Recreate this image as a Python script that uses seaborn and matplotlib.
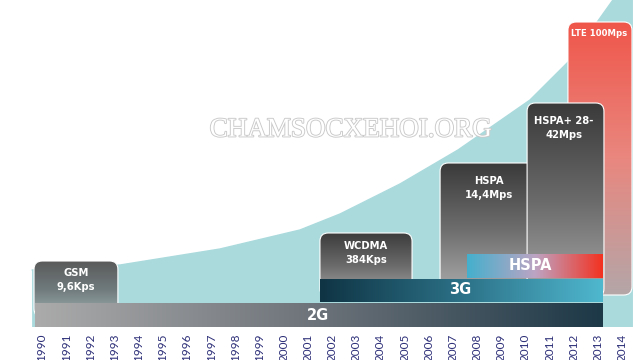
import numpy as np
import seaborn as sns
import matplotlib.pyplot as plt
import matplotlib.patheffects as pe
from matplotlib.colors import LinearSegmentedColormap
from matplotlib.patches import FancyBboxPatch

# years on the axis
years = list(range(1990, 2015))

# growth curve (relative data rate)
curve_years = [1989.59, 1993.23, 1997.36, 2000.67, 2002.33, 2004.81, 2007.21, 2010.19, 2011.85, 2013.62, 2014.45]
curve_heights = [57, 62, 78, 97, 113, 143, 177, 227, 267, 327, 360]

# generation bars: label, start, end, bottom, top
bar_labels = ["2G", "3G", "HSPA"]
bar_start = [1989.71, 2001.5, 2007.58]
bar_end = [2013.21, 2013.21, 2013.21]
bar_bottom = [0, 25, 49]
bar_top = [24, 48, 73]

# technology boxes
box_labels = ["LTE 100Mps", "GSM\n9,6Kps", "WCDMA\n384Kps", "HSPA\n14,4Mps", "HSPA+ 28-\n42Mps"]
box_start = [2011.76, 1989.67, 2001.5, 2006.47, 2010.07]
box_end = [2014.41, 1993.14, 2005.31, 2010.6, 2013.25]
box_top = [305, 66, 94, 164, 224]
box_bottom = [32, 10, 30, 30, 30]

sns.set_theme(style="white")
plt.rcParams['font.family'] = ['Lato', 'DejaVu Sans']

fig = plt.figure(figsize=(6.4, 3.6), dpi=100)
ax = fig.add_axes([0, 33 / 360, 1, 327 / 360])

teal = "#abdadd"
sns.lineplot(x=curve_years, y=curve_heights, color=teal, lw=1, ax=ax)
ax.fill_between(curve_years, 0, curve_heights, color=teal, lw=0)

px_per_year = 24.17


def grad_patch(x0, x1, y0, y1, colors, vertical, rounded=False, zorder=3):
    if rounded:
        patch = FancyBboxPatch((x0, y0), x1 - x0, y1 - y0,
                               boxstyle="round,pad=0,rounding_size=0.34",
                               mutation_aspect=px_per_year,
                               fc="none", ec="white", lw=0.8, zorder=zorder + 0.1)
    else:
        patch = FancyBboxPatch((x0, y0), x1 - x0, y1 - y0, boxstyle="square,pad=0",
                               fc="none", ec="none", zorder=zorder + 0.1)
    ax.add_patch(patch)
    cmap = LinearSegmentedColormap.from_list("g", colors)
    g = np.linspace(0, 1, 256)
    arr = g[:, None] if vertical else g[None, :]
    im = ax.imshow(arr, cmap=cmap, extent=[x0, x1, y0, y1], origin="lower",
                   aspect="auto", zorder=zorder, interpolation="bilinear")
    im.set_clip_path(patch)


# boxes (LTE behind the rest)
box_colors = [
    ["#b4a6a8", "#e9877f", "#f0564a"],
    ["#9fb0b2", "#6f7a7c", "#5a5a5a"],
    ["#a9a9a9", "#6a6a6a", "#3c3c3c"],
    ["#b0b0b0", "#6e6e6e", "#3a3a3a"],
    ["#a8a8a8", "#6a6a6a", "#3a3a3a"],
]
for i in range(len(box_labels)):
    grad_patch(box_start[i], box_end[i], box_bottom[i], box_top[i], box_colors[i],
               vertical=True, rounded=True, zorder=2 + i * 0.2)

label_font = ['DejaVu Sans']
# box labels
ax.text(2013.05, 294, box_labels[0], color="white", fontsize=6.1, fontweight="bold",
        family=label_font, ha="center", va="center", zorder=5)
for i, (x, y) in zip(range(1, 5), [(1991.4, 47), (2003.4, 74), (2008.5, 139), (2011.6, 199)]):
    ax.text(x, y, box_labels[i], color="white", fontsize=7.2, fontweight="bold",
            family=label_font, ha="center", va="center", linespacing=1.5, zorder=5)

# generation bars
bar_colors = [
    ["#ababab", "#6c7279", "#1d3847"],
    ["#0f3444", "#2c7187", "#4fb8cf"],
    ["#44b0cd", "#bda4c3", "#f4301e"],
]
for i in range(3):
    grad_patch(bar_start[i], bar_end[i], bar_bottom[i], bar_top[i], bar_colors[i],
               vertical=False, zorder=4)

for lbl, x, y in zip(bar_labels, [2001.4, 2007.3, 2010.2], [12, 37, 61]):
    ax.text(x, y, lbl, color="white", fontsize=10.5, fontweight="bold",
            family=label_font, ha="center", va="center", zorder=5)

# watermark
ax.text(2002.78, 197, "CHAMSOCXEHOI.ORG", family="Liberation Serif", fontsize=19.5,
        color="white", ha="center", va="center", zorder=6,
        path_effects=[pe.withStroke(linewidth=1.3, foreground="#c9c9c9")])

ax.set_xlim(1990 - 42 / px_per_year, 1990 + 598 / px_per_year)
ax.set_ylim(0, 327)
ax.set_xticks(years)
ax.set_xticklabels([str(y) for y in years], rotation=90, fontsize=8.5, color="#2d2f78")
ax.tick_params(axis="x", length=0, pad=5)
ax.set_yticks([])
for s in ax.spines.values():
    s.set_visible(False)

fig.savefig("out.png", dpi=100)
